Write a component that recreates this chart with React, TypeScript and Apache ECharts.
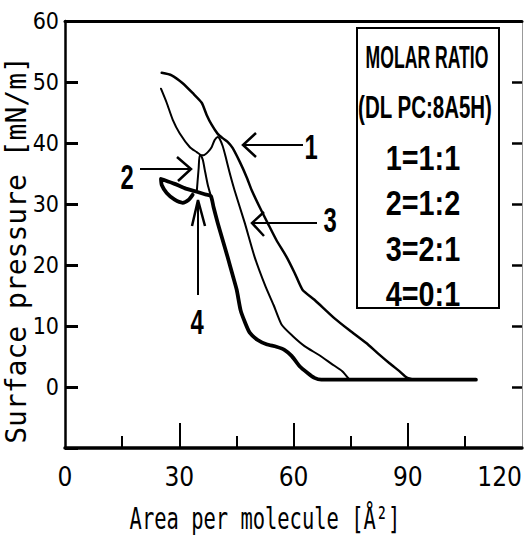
import React, { useEffect, useRef } from "react";
import * as echarts from "echarts";

// Curve "1" (DLPC:8A5H = 1:1) – middle isotherm
const curve1: [number, number][] = [
  [74.7, 1.2], [72.8, 2.6], [70.0, 3.8], [66.8, 5.2], [62.9, 6.7], [59.7, 8.4],
  [56.9, 10.2], [54.8, 13.4], [52.7, 16.4], [49.8, 21.3], [47.2, 26.9], [44.5, 32.3],
  [43.2, 35.2], [42.2, 37.7], [41.4, 39.5], [40.6, 40.7], [40.1, 41.0], [39.3, 40.5],
  [38.5, 39.3], [37.5, 38.5], [36.4, 38.0], [35.4, 38.0], [35.1, 35.9], [34.8, 33.6],
  [34.6, 32.0],
];
// Curve "2" (1:2)
const curve2: [number, number][] = [
  [107.9, 1.2], [67.3, 1.2], [65.5, 1.5], [63.7, 2.3], [61.6, 3.4], [59.5, 5.1],
  [57.6, 6.1], [55.5, 6.6], [52.9, 7.0], [50.6, 7.7], [48.5, 8.9], [47.2, 10.7],
  [46.1, 12.6], [45.1, 15.9], [44.0, 18.4], [42.7, 21.3], [41.4, 24.1], [40.1, 26.9],
  [39.0, 29.5], [38.3, 31.3], [37.5, 33.1], [36.7, 35.6], [36.2, 37.2], [35.6, 38.0],
  [34.6, 38.5], [32.8, 39.3], [30.1, 41.6], [28.3, 43.8], [26.7, 46.6], [25.2, 48.9],
];
// Curve "3" (2:1) – right isotherm
const curve3: [number, number][] = [
  [107.9, 1.2], [92.5, 1.2], [89.9, 1.5], [87.8, 2.6], [85.2, 3.9], [82.0, 5.6],
  [79.1, 7.2], [74.7, 9.3], [70.7, 11.3], [65.5, 14.3], [62.4, 15.9], [60.3, 18.7],
  [58.2, 21.3], [55.5, 24.1], [53.2, 26.9], [51.1, 29.5], [49.0, 32.3], [47.7, 34.4],
  [45.9, 36.9], [44.0, 39.2], [42.7, 40.2], [41.4, 40.8], [40.1, 41.5], [38.5, 43.0],
  [37.2, 44.6], [35.9, 46.6], [33.5, 48.2], [30.9, 49.8], [28.0, 51.1], [25.4, 51.5],
];
// Curve "4" (0:1)
const curve4: [number, number][] = [
  [107.9, 1.2], [67.3, 1.2], [65.5, 1.5], [63.7, 2.3], [61.6, 3.4], [59.5, 5.1],
  [57.6, 6.1], [55.5, 6.6], [52.9, 7.0], [50.6, 7.7], [48.5, 8.9], [47.2, 10.7],
  [46.1, 12.6], [45.1, 15.9], [44.0, 18.4], [42.7, 21.3], [41.4, 24.1], [40.1, 26.9],
  [39.0, 29.5], [38.3, 31.3], [36.7, 31.6], [34.6, 32.0], [31.4, 32.6], [28.8, 33.3],
  [26.2, 33.9], [25.2, 34.1], [25.4, 33.1], [26.7, 31.8], [28.8, 30.7], [30.9, 30.2],
  [32.5, 30.7], [33.5, 31.5],
];

const seriesNames = ["1:1", "1:2", "2:1", "0:1"];
const legendTitle = ["MOLAR RATIO", "(DL PC:8A5H)"];
const legendRows = ["1=1:1", "2=1:2", "3=2:1", "4=0:1"];
const curveLabels = ["1", "2", "3", "4"];
const xName = "Area per molecule [Å²]";
const yName = "Surface pressure [mN/m]";
const xTicksMajor = [30, 60, 90];
const yTicksRight = [0, 10, 20, 30, 40, 50];

const NARROW = "'DejaVu Sans Condensed', 'Liberation Sans Narrow', sans-serif";
const SANS = "'Liberation Sans', Arial, sans-serif";
const MONO = "'DejaVu Sans Mono', 'Liberation Mono', monospace";

function arrow(pts: number[][], shaft: number[][]) {
  return [
    { type: "line", shape: { x1: shaft[0][0], y1: shaft[0][1], x2: shaft[1][0], y2: shaft[1][1] }, style: { stroke: "#000", lineWidth: 2 } },
    { type: "polyline", shape: { points: pts }, style: { stroke: "#000", lineWidth: 2.5, fill: null } },
  ];
}

function numText(text: string, x: number, y: number) {
  return {
    type: "text", x, y, scaleX: 0.68,
    style: { text, fontSize: 35, fontWeight: "bold", fontFamily: SANS, fill: "#000", textAlign: "center", textVerticalAlign: "middle" },
  };
}

export default function App() {
  const ref = useRef<HTMLDivElement>(null);
  useEffect(() => {
    if (!ref.current) return;
    const chart = echarts.init(ref.current, null, { renderer: "svg" });
    const mk = (name: string, data: [number, number][], width: number) => ({
      type: "line", name, data, showSymbol: false, symbol: "none", smooth: 0.2,
      lineStyle: { color: "#000", width, join: "round", cap: "round" },
      xAxisIndex: 0, yAxisIndex: 0, z: 3,
    });
    chart.setOption({
      animation: false,
      backgroundColor: "#fff",
      grid: { left: 65, right: 2, top: 21, bottom: 89 },
      xAxis: [
        {
          type: "value", min: 0, max: 120, interval: 30, position: "bottom",
          axisLine: { show: true, onZero: false, lineStyle: { color: "#000", width: 3.5 } },
          axisTick: { show: true, inside: true, length: 25, customValues: xTicksMajor, lineStyle: { color: "#000", width: 2 } },
          minorTick: { show: true, splitNumber: 2, length: 12, lineStyle: { color: "#000", width: 2 } },
          splitLine: { show: false },
          axisLabel: { color: "#000", fontSize: 26, fontFamily: NARROW, margin: 16, alignMaxLabel: "right" },
        },
        {
          type: "value", min: 0, max: 120, position: "top",
          axisLine: { show: true, onZero: false, lineStyle: { color: "#000", width: 3 } },
          axisTick: { show: false }, axisLabel: { show: false }, splitLine: { show: false },
        },
      ],
      yAxis: [
        {
          type: "value", min: -10, max: 60, interval: 10, position: "left",
          axisLine: { show: true, onZero: false, lineStyle: { color: "#000", width: 2.5 } },
          axisTick: { show: true, inside: true, length: 13, lineStyle: { color: "#000", width: 3 } },
          splitLine: { show: false },
          axisLabel: { color: "#000", fontSize: 23, fontFamily: NARROW, margin: 6, formatter: (v: number) => (v < 0 ? "" : String(v)) },
        },
        {
          type: "value", min: -10, max: 60, interval: 10, position: "right",
          axisLine: { show: true, onZero: false, lineStyle: { color: "#999", width: 1 } },
          axisTick: { show: true, inside: true, length: 10, customValues: yTicksRight, lineStyle: { color: "#000", width: 2.5 } },
          axisLabel: { show: false }, splitLine: { show: false },
        },
      ],
      series: [
        mk(seriesNames[0], curve1, 2),
        mk(seriesNames[1], curve2, 2),
        mk(seriesNames[2], curve3, 2.5),
        mk(seriesNames[3], curve4, 3.8),
      ],
      graphic: [
        { type: "rect", shape: { x: 357, y: 28, width: 142, height: 280 }, style: { stroke: "#000", lineWidth: 2, fill: "#fff" }, z: 10 },
        { type: "text", x: 427, y: 57, scaleX: 0.55, z: 11, style: { text: legendTitle[0], fontSize: 32, fontWeight: "bold", fontFamily: SANS, fill: "#000", textAlign: "center", textVerticalAlign: "middle" } },
        { type: "text", x: 425, y: 107, scaleX: 0.64, z: 11, style: { text: legendTitle[1], fontSize: 32, fontWeight: "bold", fontFamily: SANS, fill: "#000", textAlign: "center", textVerticalAlign: "middle" } },
        ...legendRows.map((t, i) => ({
          type: "text", x: 423, y: 157 + i * 45.5, scaleX: 0.8, z: 11,
          style: { text: t, fontSize: 36, fontWeight: "bold", fontFamily: SANS, fill: "#000", textAlign: "center", textVerticalAlign: "middle" },
        })),
        // annotation arrows
        ...arrow([[256, 133], [243, 145], [256, 157]], [[244, 145], [303, 145]]),
        ...arrow([[177, 157], [191, 169], [178, 181]], [[140, 169], [190, 169]]),
        ...arrow([[264, 212], [252, 223], [264, 236]], [[253, 223], [317, 223]]),
        ...arrow([[192, 226], [198, 200], [205, 226]], [[198, 201], [198, 295]]),
        numText(curveLabels[0], 311, 147),
        numText(curveLabels[1], 127, 177),
        numText(curveLabels[2], 330, 220),
        numText(curveLabels[3], 197, 322),
        // axis names
        { type: "text", x: 16, y: 250, rotation: Math.PI / 2, style: { text: yName, fontSize: 28, fontFamily: MONO, fill: "#000", textAlign: "center", textVerticalAlign: "middle" } },
        { type: "text", x: 265, y: 518, scaleX: 0.66, style: { text: xName, fontSize: 31, fontFamily: MONO, fill: "#000", textAlign: "center", textVerticalAlign: "middle" } },
      ],
    });
    return () => chart.dispose();
  }, []);
  return <div ref={ref} style={{ position: "absolute", left: 0, top: 0, width: 525, height: 537 }} />;
}
